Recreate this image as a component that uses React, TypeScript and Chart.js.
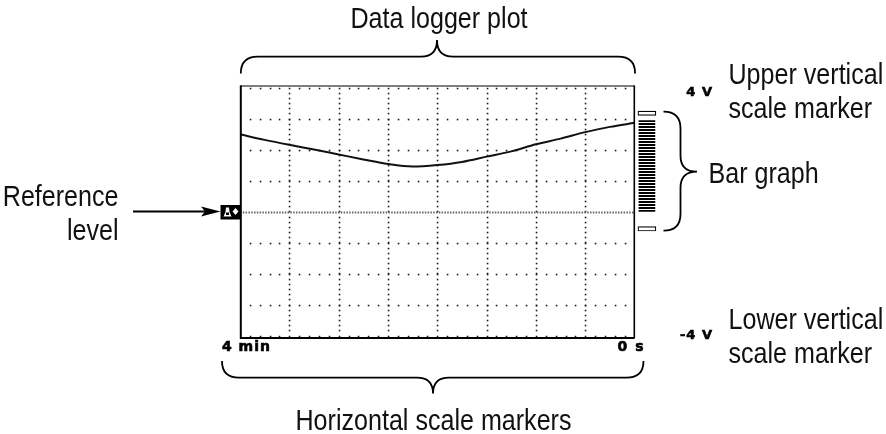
import React, { useEffect, useRef } from "react";
import { Chart, registerables } from "chart.js";

Chart.register(...registerables);

// ---- data ----
const divisions = [0, 0.5, 1, 1.5, 2, 2.5, 3, 3.5, 4, 4.5, 5, 5.5, 6, 6.5, 7, 7.5, 8];
const signalValues = [2.49, 2.31, 2.15, 2.0, 1.84, 1.68, 1.53, 1.45, 1.5, 1.6, 1.77, 1.94, 2.17, 2.35, 2.56, 2.73, 2.86];
const referenceLevel = 0;
const barGraphValue = 2.93;
const upperMarker = [3.1, 3.24];
const lowerMarker = [-0.63, -0.49];
const timeLabels = ["4 min", "0 s"];
const voltLabels = ["4 V", "-4 V"];
const calloutLabels = ["Data logger plot", "Horizontal scale markers", "Reference", "level", "Upper vertical", "scale marker", "Bar graph", "Lower vertical"];

const X_DIVS = 8;
const Y_MIN = -4;
const Y_MAX = 4;
const BAR_X = 8.25;

const W = 886;
const H = 434;

function narrow(ctx: CanvasRenderingContext2D, text: string, x: number, y: number, align: "left" | "right" | "center") {
  const sx = 0.865;
  ctx.save();
  ctx.font = "29px 'Liberation Sans', Arial, sans-serif";
  ctx.fillStyle = "#111";
  const w = ctx.measureText(text).width * sx;
  const left = align === "left" ? x : align === "right" ? x - w : x - w / 2;
  ctx.translate(left, y);
  ctx.scale(sx, 1);
  ctx.textAlign = "left";
  ctx.textBaseline = "alphabetic";
  ctx.fillText(text, 0, 0);
  ctx.restore();
}

function small(ctx: CanvasRenderingContext2D, text: string, x: number, y: number, align: "left" | "right", size: number, spacing: number) {
  ctx.save();
  ctx.font = "bold " + size + "px 'DejaVu Sans', sans-serif";
  (ctx as any).letterSpacing = spacing + "px";
  ctx.fillStyle = "#000";
  ctx.strokeStyle = "#000";
  ctx.lineWidth = 0.6;
  ctx.textBaseline = "alphabetic";
  const w = ctx.measureText(text).width - spacing;
  const left = align === "left" ? x : x - w;
  ctx.textAlign = "left";
  ctx.fillText(text, left, y);
  ctx.strokeText(text, left, y);
  ctx.restore();
}

function hBrace(ctx: CanvasRenderingContext2D, x1: number, x2: number, yEnd: number, yLine: number, tipX: number, yTip: number) {
  const r = 17;
  const r2 = 16;
  ctx.beginPath();
  ctx.moveTo(x1, yEnd);
  ctx.quadraticCurveTo(x1, yLine, x1 + r, yLine);
  ctx.lineTo(tipX - r2, yLine);
  ctx.quadraticCurveTo(tipX, yLine, tipX, yTip);
  ctx.quadraticCurveTo(tipX, yLine, tipX + r2, yLine);
  ctx.lineTo(x2 - r, yLine);
  ctx.quadraticCurveTo(x2, yLine, x2, yEnd);
  ctx.stroke();
}

function vBrace(ctx: CanvasRenderingContext2D, y1: number, y2: number, xEnd: number, xLine: number, tipY: number, xTip: number) {
  const r = 17;
  const r2 = 16;
  ctx.beginPath();
  ctx.moveTo(xEnd, y1);
  ctx.quadraticCurveTo(xLine, y1, xLine, y1 + r);
  ctx.lineTo(xLine, tipY - r2);
  ctx.quadraticCurveTo(xLine, tipY, xTip, tipY);
  ctx.quadraticCurveTo(xLine, tipY, xLine, tipY + r2);
  ctx.lineTo(xLine, y2 - r);
  ctx.quadraticCurveTo(xLine, y2, xEnd, y2);
  ctx.stroke();
}

const gridPlugin = {
  id: "scopeGrid",
  beforeDatasetsDraw(chart: any) {
    const ctx: CanvasRenderingContext2D = chart.ctx;
    const xs = chart.scales.x;
    const ys = chart.scales.y;
    const { left, right, top, bottom } = chart.chartArea;
    const dx = (right - left) / X_DIVS;
    ctx.save();
    ctx.fillStyle = "#1a1a1a";
    for (let v = Y_MIN; v <= Y_MAX; v++) {
      if (v === referenceLevel) continue;
      let y = ys.getPixelForValue(v);
      if (v === Y_MAX) y = top;
      if (v === Y_MIN) y = bottom;
      for (let k = 1; k < X_DIVS * 5; k++) {
        const x = left + (k * dx) / 5;
        ctx.fillRect(Math.round(x) - 0.25, Math.round(y) - 0.25, 1.6, 1.6);
      }
    }
    for (let i = 1; i < X_DIVS; i++) {
      const x = xs.getPixelForValue(i);
      const dy = (ys.getPixelForValue(Y_MIN) - ys.getPixelForValue(Y_MIN + 1)) / 6;
      for (let y = top + dy; y < bottom; y += dy) {
        ctx.fillRect(Math.round(x) - 0.25, Math.round(y) - 0.25, 1.6, 1.6);
      }
    }
    const yr = ys.getPixelForValue(referenceLevel);
    ctx.strokeStyle = "#666";
    ctx.lineWidth = 1.8;
    ctx.setLineDash([1.5, 1.3]);
    ctx.beginPath();
    ctx.moveTo(left, Math.round(yr) + 0.5);
    ctx.lineTo(right, Math.round(yr) + 0.5);
    ctx.stroke();
    ctx.restore();
  },
  afterDatasetsDraw(chart: any) {
    const ctx: CanvasRenderingContext2D = chart.ctx;
    const { left, right, top, bottom } = chart.chartArea;
    ctx.save();
    ctx.strokeStyle = "#000";
    ctx.lineWidth = 1.2;
    ctx.beginPath();
    ctx.moveTo(left, top - 1.5);
    ctx.lineTo(right, top - 1.5);
    ctx.stroke();
    ctx.lineWidth = 1.6;
    ctx.beginPath();
    ctx.moveTo(right - 0.3, top - 2);
    ctx.lineTo(right - 0.3, bottom + 2.5);
    ctx.stroke();
    ctx.lineWidth = 2;
    ctx.beginPath();
    ctx.moveTo(left + 0.8, top - 2);
    ctx.lineTo(left + 0.8, bottom + 2.5);
    ctx.lineTo(right, bottom + 2.5);
    ctx.stroke();
    ctx.restore();
  },
  afterDraw(chart: any) {
    const ctx: CanvasRenderingContext2D = chart.ctx;
    const ys = chart.scales.y;
    const { left, right } = chart.chartArea;
    const yr = ys.getPixelForValue(referenceLevel);
    ctx.save();

    // reference marker box
    ctx.fillStyle = "#000";
    ctx.fillRect(left - 19.5, yr - 6.5, 20.5, 14.5);
    ctx.fillStyle = "#fff";
    ctx.beginPath();
    ctx.moveTo(left - 16.5, yr + 5);
    ctx.lineTo(left - 8.5, yr + 5);
    ctx.lineTo(left - 10.5, yr + 0.5);
    ctx.lineTo(left - 11, yr - 4);
    ctx.lineTo(left - 14, yr - 4);
    ctx.lineTo(left - 14.5, yr + 0.5);
    ctx.closePath();
    ctx.fill();
    ctx.fillStyle = "#000";
    ctx.fillRect(left - 14, yr + 1, 3, 2.5);
    ctx.fillStyle = "#fff";
    ctx.beginPath();
    ctx.moveTo(left - 4.5, yr - 3.5);
    ctx.lineTo(left - 1.5, yr);
    ctx.lineTo(left - 4.5, yr + 3.5);
    ctx.lineTo(left - 7.5, yr);
    ctx.closePath();
    ctx.fill();

    // arrow to reference level
    ctx.strokeStyle = "#000";
    ctx.fillStyle = "#000";
    ctx.lineWidth = 2;
    ctx.beginPath();
    ctx.moveTo(133, yr);
    ctx.lineTo(206, yr);
    ctx.stroke();
    ctx.beginPath();
    ctx.moveTo(left - 19.5, yr);
    ctx.lineTo(left - 39, yr - 5);
    ctx.lineTo(left - 35, yr);
    ctx.lineTo(left - 39, yr + 5);
    ctx.closePath();
    ctx.fill();

    // braces
    ctx.lineWidth = 1.8;
    hBrace(ctx, left + 0.8, right + 0.5, 73.5, 56.7, 437, 40);
    hBrace(ctx, 222, 643.5, 361, 377.7, 433, 393.5);
    vBrace(ctx, 111.7, 230.7, 663.5, 680.5, 171.7, 697);

    // scale markers
    small(ctx, timeLabels[0], 222, 350.5, "left", 14, 1);
    small(ctx, timeLabels[1], 643.5, 350.5, "right", 14, 1.5);
    small(ctx, voltLabels[0], 712, 95.5, "right", 13, 1);
    small(ctx, voltLabels[1], 712, 338.5, "right", 13, 1);

    // callout labels
    narrow(ctx, calloutLabels[0], 439, 27.5, "center");
    narrow(ctx, calloutLabels[1], 433.5, 430, "center");
    narrow(ctx, calloutLabels[2], 118.5, 205.7, "right");
    narrow(ctx, calloutLabels[3], 118.5, 240, "right");
    narrow(ctx, calloutLabels[4], 728.5, 83.5, "left");
    narrow(ctx, calloutLabels[5], 728.5, 117.5, "left");
    narrow(ctx, calloutLabels[6], 708.5, 182.7, "left");
    narrow(ctx, calloutLabels[7], 728.5, 329, "left");
    narrow(ctx, calloutLabels[5], 728.5, 363.3, "left");
    ctx.restore();
  },
};

function makeStripePattern(): CanvasPattern | string {
  const c = document.createElement("canvas");
  c.width = 4;
  c.height = 3;
  const g = c.getContext("2d");
  if (!g) return "#000";
  g.fillStyle = "#fff";
  g.fillRect(0, 0, 4, 3);
  g.fillStyle = "#000";
  g.fillRect(0, 0, 4, 2);
  const p = g.createPattern(c, "repeat");
  return p || "#000";
}

export default function App() {
  const ref = useRef<HTMLCanvasElement | null>(null);
  useEffect(() => {
    const canvas = ref.current;
    if (!canvas) return;
    const chart = new Chart(canvas, {
      type: "line",
      data: {
        datasets: [
          {
            type: "line",
            data: divisions.map((d, i) => ({ x: d, y: signalValues[i] })),
            borderColor: "#111",
            borderWidth: 2,
            pointRadius: 0,
            tension: 0.4,
            cubicInterpolationMode: "monotone",
          } as any,
          {
            type: "bar",
            data: [{ x: BAR_X, y: [referenceLevel, barGraphValue] }],
            backgroundColor: makeStripePattern(),
            borderWidth: 0,
            barThickness: 16,
            grouped: false,
            clip: false,
          } as any,
          {
            type: "bar",
            data: [
              { x: BAR_X, y: upperMarker },
              { x: BAR_X, y: lowerMarker },
            ],
            backgroundColor: "#fff",
            borderColor: "#000",
            borderWidth: 1.2,
            borderSkipped: false,
            barThickness: 18,
            grouped: false,
            clip: false,
          } as any,
        ],
      },
      options: {
        responsive: false,
        animation: false,
        events: [],
        layout: { padding: { left: 240, right: W - 634.6, top: 87.5, bottom: H - 335.5 } },
        scales: {
          x: { type: "linear", min: 0, max: X_DIVS, offset: false, display: false },
          y: { type: "linear", min: Y_MIN, max: Y_MAX, display: false },
        },
        plugins: { legend: { display: false }, tooltip: { enabled: false } },
      },
      plugins: [gridPlugin],
    });
    return () => chart.destroy();
  }, []);
  return (
    <div style={{ position: "absolute", left: 0, top: 0, width: W, height: H, background: "#fff" }}>
      <canvas ref={ref} width={W} height={H} style={{ width: W, height: H, display: "block" }} />
    </div>
  );
}
